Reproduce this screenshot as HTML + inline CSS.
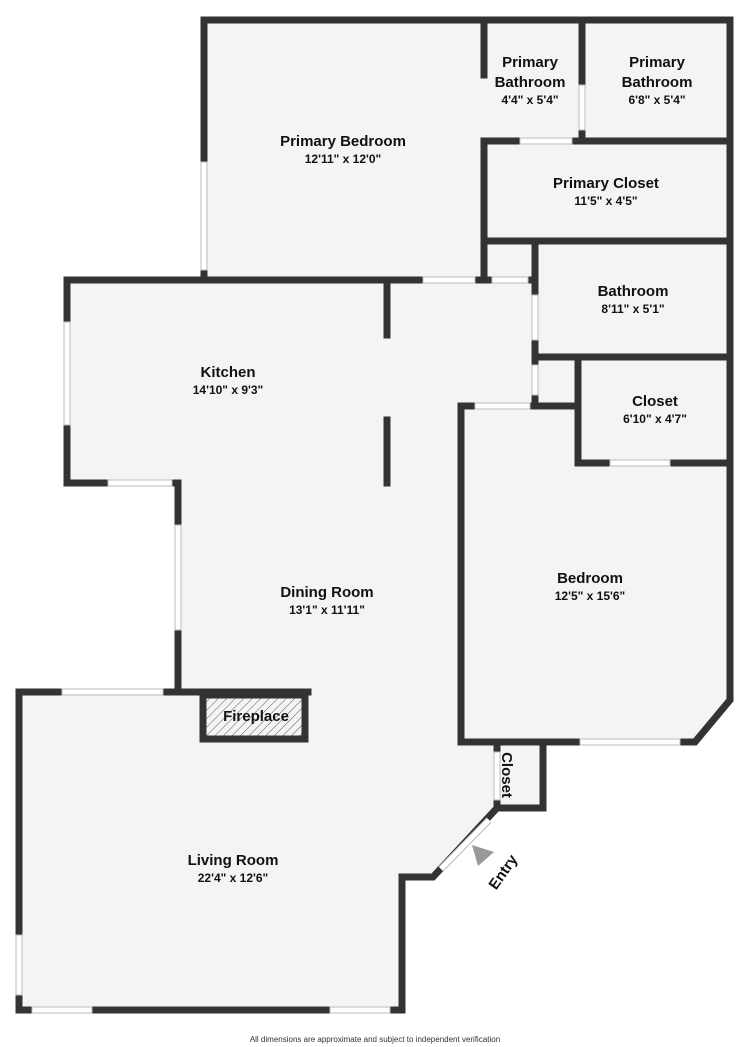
<!DOCTYPE html>
<html><head><meta charset="utf-8"><style>
html,body{margin:0;padding:0;background:#fff;}
svg{display:block;}
text{font-family:"Liberation Sans","DejaVu Sans",sans-serif;fill:#111;text-anchor:middle;}
.n{font-size:15px;font-weight:bold;}
.d{font-size:12px;font-weight:bold;}
</style></head><body>
<svg width="750" height="1047" viewBox="0 0 750 1047" xmlns="http://www.w3.org/2000/svg">
<defs>
<pattern id="h" width="6" height="6" patternUnits="userSpaceOnUse" patternTransform="rotate(45)">
<rect width="6" height="6" fill="#f4f4f4"/><line x1="0" y1="0" x2="0" y2="6" stroke="#555" stroke-width="1"/>
</pattern>
</defs>
<g stroke="#333" stroke-width="7" stroke-linecap="square" fill="none">
<polygon fill="#f4f4f4" points="204,20 730,20 730,700 695,742 543,742 543,808 497,808 433,877 402,877 402,1010 19,1010 19,692 178,692 178,483 67,483 67,280 204,280"/>
<line x1="484" y1="20" x2="484" y2="75"/>
<line x1="582" y1="20" x2="582" y2="85"/>
<line x1="582" y1="130" x2="582" y2="141"/>
<line x1="484" y1="141" x2="730" y2="141"/>
<line x1="484" y1="141" x2="484" y2="280"/>
<line x1="484" y1="241" x2="730" y2="241"/>
<line x1="535" y1="241" x2="535" y2="406"/>
<line x1="535" y1="357" x2="730" y2="357"/>
<line x1="578" y1="357" x2="578" y2="463"/>
<line x1="578" y1="463" x2="730" y2="463"/>
<line x1="461" y1="406" x2="578" y2="406"/>
<line x1="461" y1="406" x2="461" y2="742"/>
<line x1="461" y1="742" x2="543" y2="742"/>
<line x1="497" y1="742" x2="497" y2="808"/>
<line x1="387" y1="280" x2="387" y2="335"/>
<line x1="387" y1="420" x2="387" y2="483"/>
<line x1="178" y1="692" x2="308" y2="692"/>
<line x1="204" y1="280" x2="484" y2="280"/>
<line x1="484" y1="280" x2="535" y2="280"/>
</g>
<rect x="203" y="695" width="102" height="44" fill="url(#h)" stroke="#333" stroke-width="7"/>
<g fill="#fff" stroke="#bbb" stroke-width="1">
<rect x="579" y="85" width="6" height="45"/>
<rect x="520" y="138" width="52" height="6"/>
<rect x="201" y="162" width="6" height="108"/>
<rect x="423" y="277" width="52" height="6"/>
<rect x="492" y="277" width="36" height="6"/>
<rect x="532" y="295" width="6" height="45"/>
<rect x="532" y="365" width="6" height="30"/>
<rect x="475" y="403" width="55" height="6"/>
<rect x="610" y="460" width="60" height="6"/>
<rect x="64" y="322" width="6" height="103"/>
<rect x="108" y="480" width="64" height="6"/>
<rect x="175" y="525" width="6" height="105"/>
<rect x="62" y="689" width="101" height="6"/>
<rect x="16" y="935" width="6" height="60"/>
<rect x="32" y="1007" width="60" height="6"/>
<rect x="330" y="1007" width="60" height="6"/>
<rect x="580" y="739" width="100" height="6"/>
<rect x="494" y="752" width="6" height="48"/>
</g>
<line x1="489" y1="820" x2="441" y2="869" stroke="#bbb" stroke-width="7"/>
<line x1="489" y1="820" x2="441" y2="869" stroke="#fff" stroke-width="5"/>
<polygon points="472,845 494,852 478,866" fill="#999"/>
<text class="n" x="530" y="67">Primary</text>
<text class="n" x="530" y="87">Bathroom</text>
<text class="d" x="530" y="104">4'4" x 5'4"</text>
<text class="n" x="657" y="67">Primary</text>
<text class="n" x="657" y="87">Bathroom</text>
<text class="d" x="657" y="104">6'8" x 5'4"</text>
<text class="n" x="343" y="146">Primary Bedroom</text>
<text class="d" x="343" y="163">12'11" x 12'0"</text>
<text class="n" x="606" y="188">Primary Closet</text>
<text class="d" x="606" y="205">11'5" x 4'5"</text>
<text class="n" x="633" y="296">Bathroom</text>
<text class="d" x="633" y="313">8'11" x 5'1"</text>
<text class="n" x="228" y="377">Kitchen</text>
<text class="d" x="228" y="394">14'10" x 9'3"</text>
<text class="n" x="655" y="406">Closet</text>
<text class="d" x="655" y="423">6'10" x 4'7"</text>
<text class="n" x="590" y="583">Bedroom</text>
<text class="d" x="590" y="600">12'5" x 15'6"</text>
<text class="n" x="327" y="597">Dining Room</text>
<text class="d" x="327" y="614">13'1" x 11'11"</text>
<text class="n" x="256" y="721">Fireplace</text>
<text class="n" transform="translate(507,775) rotate(90)" y="5">Closet</text>
<text class="n" x="233" y="865">Living Room</text>
<text class="d" x="233" y="882">22'4" x 12'6"</text>
<text class="n" transform="translate(503,872) rotate(-55)" y="5">Entry</text>
<text x="375" y="1042" style="font-size:8px;fill:#333">All dimensions are approximate and subject to independent verification</text>
</svg>
</body></html>
